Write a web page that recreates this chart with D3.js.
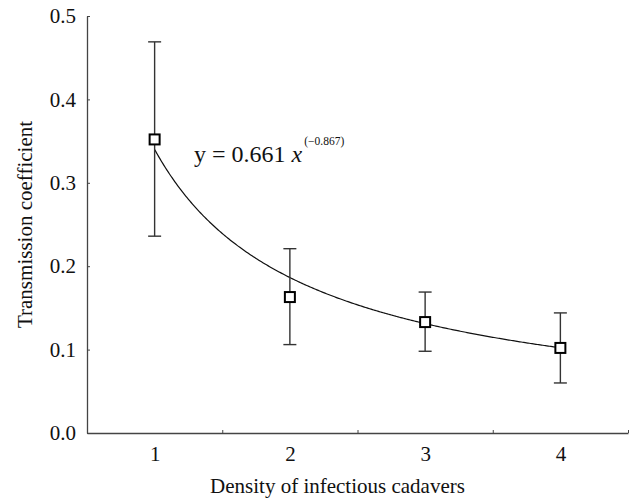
<!DOCTYPE html>
<html>
<head>
<meta charset="utf-8">
<script src="https://cdn.jsdelivr.net/npm/d3@7/dist/d3.min.js"></script>
<style>
  html, body { margin: 0; padding: 0; background: #fff; }
  svg { display: block; }
  text { font-family: "Liberation Serif", "Times New Roman", "DejaVu Serif", serif; fill: #111; }
</style>
</head>
<body>
<svg id="chart" width="635" height="500"></svg>
<script>
// ---- data ----
const categories = [1, 2, 3, 4];
const meanValues = [0.352, 0.163, 0.133, 0.102];
const upperValues = [0.469, 0.221, 0.169, 0.144];
const lowerValues = [0.236, 0.106, 0.098, 0.060];
const yTicks = [0.0, 0.1, 0.2, 0.3, 0.4, 0.5];
const xBoundaries = [1.5, 2.5, 3.5, 4.5];
// fitted power curve (as printed) : y = 0.661 x^(-0.867)
const fitCoef = 0.661;
const fitExp = -0.867;
const fitValueAtFirst = 0.34; // curve height at category 1

(function () {
const svg = d3.select("#chart");
const mLeft = 87, mRight = 628, mTop = 16, mBottom = 433;
const serif = "Liberation Serif";

const x = d3.scaleLinear().domain([0.5, 4.5]).range([mLeft, mRight]);
const y = d3.scaleLinear().domain([0, 0.5]).range([mBottom, mTop]);

const axisColor = "#444";

// y axis
const yAxis = svg.append("g")
  .attr("transform", `translate(${mLeft},0)`)
  .call(d3.axisLeft(y).tickValues(yTicks).tickFormat(d3.format(".1f"))
        .tickSizeInner(-3).tickSizeOuter(0).tickPadding(11));
yAxis.attr("font-family", serif);
yAxis.select(".domain").attr("stroke", axisColor).attr("stroke-width", 1.3);
yAxis.selectAll(".tick line").attr("stroke", axisColor).attr("stroke-width", 1);
yAxis.selectAll(".tick text").attr("font-size", 21).attr("fill", "#111");

// x axis (boundary ticks)
const xAxis = svg.append("g")
  .attr("transform", `translate(0,${mBottom})`)
  .call(d3.axisBottom(x).tickValues(xBoundaries).tickFormat("")
        .tickSizeInner(-3).tickSizeOuter(0));
xAxis.select(".domain").attr("stroke", axisColor).attr("stroke-width", 1.3);
xAxis.selectAll(".tick line").attr("stroke", axisColor).attr("stroke-width", 1);

// x labels
const xLab = svg.append("g")
  .attr("transform", `translate(0,${mBottom})`)
  .call(d3.axisBottom(x).tickValues(categories).tickFormat(d3.format("d"))
        .tickSize(0).tickPadding(13));
xLab.attr("font-family", serif);
xLab.select(".domain").remove();
xLab.selectAll(".tick text").attr("font-size", 21).attr("fill", "#111");

// axis titles
svg.append("text")
  .attr("x", (mLeft + mRight) / 2 - 20)
  .attr("y", 493)
  .attr("text-anchor", "middle")
  .attr("font-size", 21)
  .text("Density of infectious cadavers");

svg.append("text")
  .attr("transform", `translate(32,${(mTop + mBottom) / 2}) rotate(-90)`)
  .attr("text-anchor", "middle")
  .attr("font-size", 21)
  .text("Transmission coefficient");

// fitted curve
const curvePts = d3.range(0, 301).map(i => {
  const k = 1 + 3 * i / 300;
  return [k, fitValueAtFirst * Math.pow(k, fitExp)];
});
svg.append("path")
  .datum(curvePts)
  .attr("fill", "none")
  .attr("stroke", "#111")
  .attr("stroke-width", 1.2)
  .attr("d", d3.line().x(d => x(d[0])).y(d => y(d[1])));

// error bars
const data = categories.map((c, i) => ({c, m: meanValues[i], hi: upperValues[i], lo: lowerValues[i]}));
const capW = 6.5;
const eb = svg.append("g").attr("stroke", "#333").attr("stroke-width", 1.4);
data.forEach(d => {
  eb.append("line").attr("x1", x(d.c)).attr("x2", x(d.c)).attr("y1", y(d.hi)).attr("y2", y(d.lo));
  eb.append("line").attr("x1", x(d.c) - capW).attr("x2", x(d.c) + capW).attr("y1", y(d.hi)).attr("y2", y(d.hi));
  eb.append("line").attr("x1", x(d.c) - capW).attr("x2", x(d.c) + capW).attr("y1", y(d.lo)).attr("y2", y(d.lo));
});

// markers
const sq = 10;
svg.append("g").selectAll("rect").data(data).join("rect")
  .attr("x", d => x(d.c) - sq / 2)
  .attr("y", d => y(d.m) - sq / 2)
  .attr("width", sq).attr("height", sq)
  .attr("fill", "#fff").attr("stroke", "#000").attr("stroke-width", 2);

// equation
const eq = svg.append("text").attr("x", 194).attr("y", 162).attr("font-size", 24)
  .attr("font-family", serif);
eq.append("tspan").text("y = 0.661 ");
eq.append("tspan").attr("font-style", "italic").text("x");
eq.append("tspan").attr("font-size", 11.5).attr("dx", 2).attr("dy", -17).text("(\u22120.867)");
})();
</script>
</body>
</html>
